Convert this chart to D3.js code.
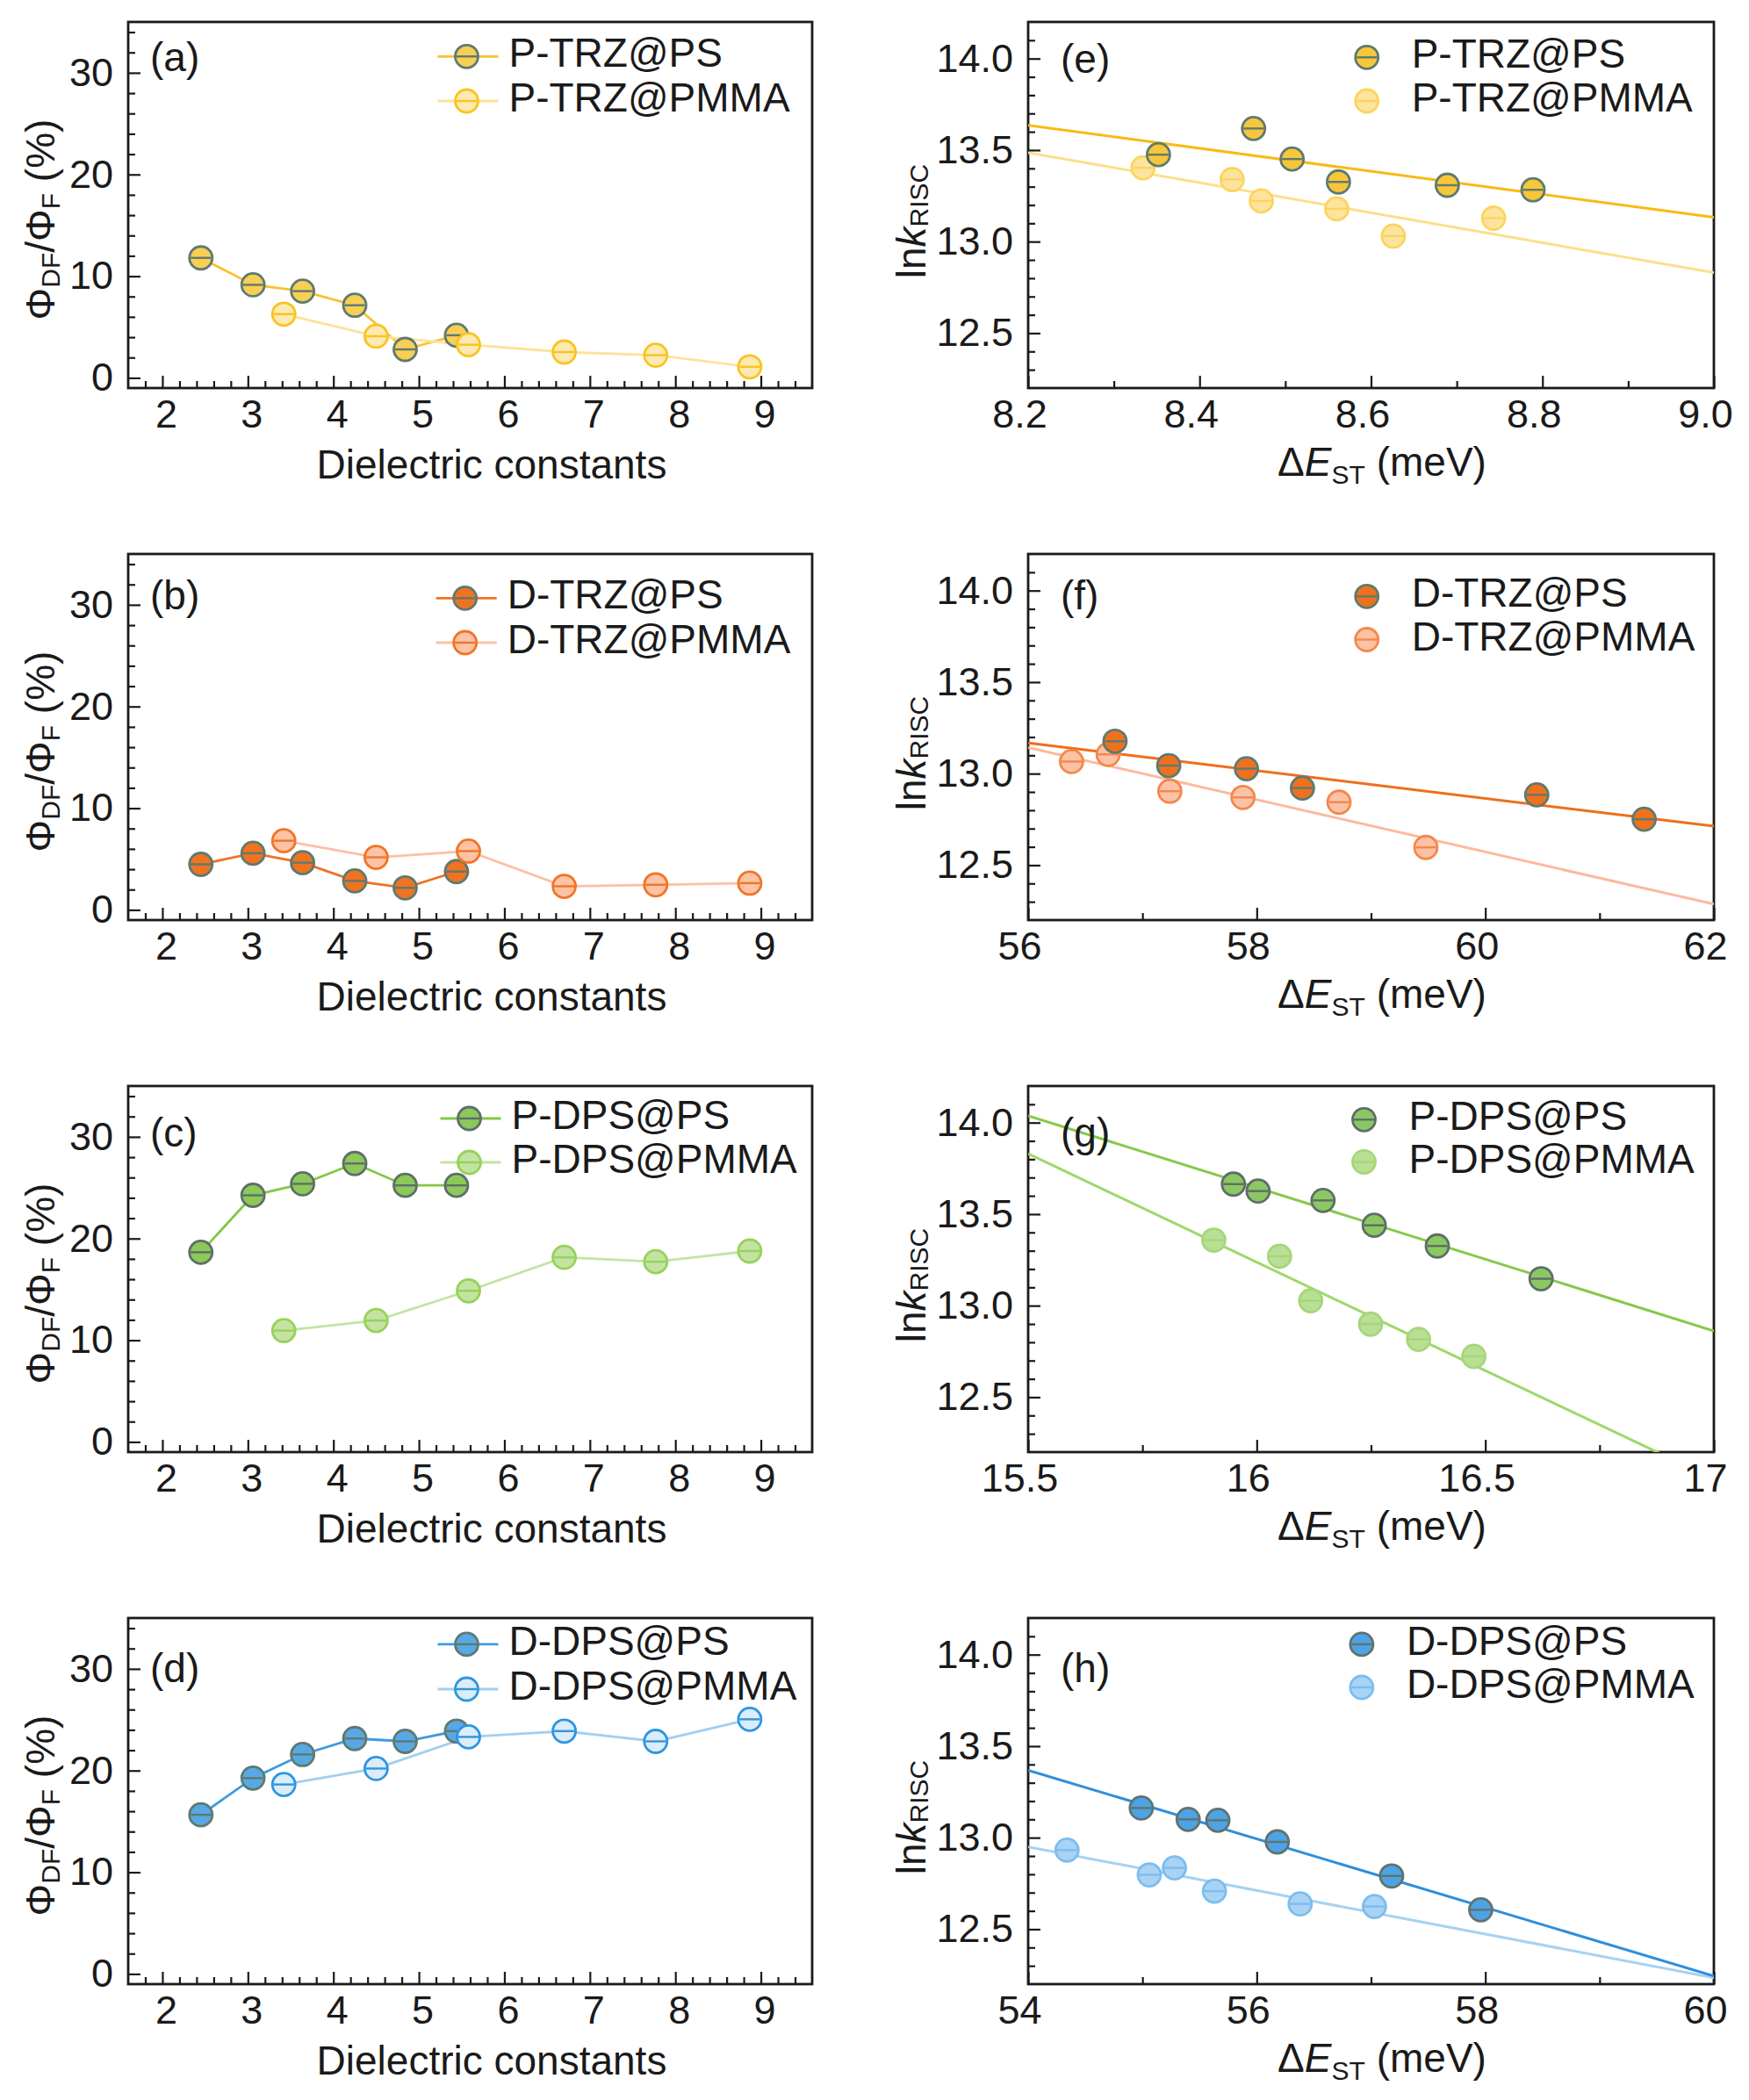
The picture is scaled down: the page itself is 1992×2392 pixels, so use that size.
<!DOCTYPE html>
<html><head><meta charset="utf-8">
<script src="https://cdn.jsdelivr.net/npm/d3@7"></script>
<style>
body{margin:0;background:#fff}
text{font-family:"Liberation Sans", Arial, Helvetica, sans-serif; fill:#1a1a1a}
</style>
</head><body><script>
// ---------------- DATA ----------------
const epsPS   = [2.45, 3.06, 3.64, 4.25, 4.84, 5.44];
const epsPMMA = [3.42, 4.50, 5.58, 6.70, 7.77, 8.87];

const ratio_PTRZ_PS   = [11.8, 9.15, 8.53, 7.14, 2.80, 4.19];
const ratio_PTRZ_PMMA = [6.27, 4.10, 3.26, 2.54, 2.23, 1.09];
const ratio_DTRZ_PS   = [4.48, 5.57, 4.64, 2.85, 2.17, 3.77];
const ratio_DTRZ_PMMA = [6.80, 5.17, 5.78, 2.32, 2.47, 2.63];
const ratio_PDPS_PS   = [18.65, 24.25, 25.38, 27.38, 25.23, 25.23];
const ratio_PDPS_PMMA = [10.95, 11.94, 14.86, 18.15, 17.72, 18.77];
const ratio_DDPS_PS   = [15.65, 19.26, 21.58, 23.15, 22.87, 23.88];
const ratio_DDPS_PMMA = [18.63, 20.20, 23.31, 23.88, 22.87, 25.04];

const dEST_PTRZ_PS   = [8.352, 8.463, 8.508, 8.562, 8.689, 8.789];
const lnk_PTRZ_PS    = [13.475, 13.618, 13.451, 13.326, 13.308, 13.283];
const dEST_PTRZ_PMMA = [8.334, 8.438, 8.472, 8.560, 8.626, 8.743];
const lnk_PTRZ_PMMA  = [13.403, 13.339, 13.222, 13.179, 13.030, 13.128];
const fitX_PTRZ = [8.2, 9.0];
const fitY_PTRZ_PS   = [13.635, 13.133];
const fitY_PTRZ_PMMA = [13.486, 12.830];

const dEST_DTRZ_PS   = [56.76, 57.23, 57.91, 58.40, 60.45, 61.39];
const lnk_DTRZ_PS    = [13.177, 13.044, 13.027, 12.921, 12.884, 12.751];
const dEST_DTRZ_PMMA = [56.38, 56.70, 57.24, 57.88, 58.72, 59.48];
const lnk_DTRZ_PMMA  = [13.066, 13.105, 12.904, 12.870, 12.844, 12.597];
const fitX_DTRZ = [56, 62];
const fitY_DTRZ_PS   = [13.168, 12.713];
const fitY_DTRZ_PMMA = [13.143, 12.287];

const dEST_PDPS_PS   = [15.949, 16.003, 16.145, 16.257, 16.395, 16.622];
const lnk_PDPS_PS    = [13.664, 13.626, 13.575, 13.439, 13.326, 13.147];
const dEST_PDPS_PMMA = [15.906, 16.050, 16.118, 16.249, 16.354, 16.475];
const lnk_PDPS_PMMA  = [13.358, 13.270, 13.027, 12.899, 12.816, 12.723];
const fitX_PDPS = [15.5, 17];
const fitY_PDPS_PS   = [14.037, 12.862];
const fitY_PDPS_PMMA = [13.830, 12.053];

const dEST_DDPS_PS   = [54.99, 55.40, 55.66, 56.18, 57.18, 57.96];
const lnk_DDPS_PS    = [13.162, 13.100, 13.095, 12.977, 12.791, 12.606];
const dEST_DDPS_PMMA = [54.34, 55.06, 55.28, 55.63, 56.38, 57.03];
const lnk_DDPS_PMMA  = [12.932, 12.797, 12.835, 12.708, 12.638, 12.624];
const fitX_DDPS = [54, 60];
const fitY_DDPS_PS   = [13.368, 12.244];
const fitY_DDPS_PMMA = [12.950, 12.235];

// tick labels
const leftXTicks = [2, 3, 4, 5, 6, 7, 8, 9];
const leftXLabels = ['2', '3', '4', '5', '6', '7', '8', '9'];
const leftYTicks = [0, 10, 20, 30];
const leftYLabels = ['0', '10', '20', '30'];
const rightYTicks = [12.5, 13.0, 13.5, 14.0];
const rightYLabels = ['12.5', '13.0', '13.5', '14.0'];
const eXTicks = [8.2, 8.4, 8.6, 8.8, 9.0];  const eXLabels = ['8.2', '8.4', '8.6', '8.8', '9.0'];
const fXTicks = [56, 58, 60, 62];           const fXLabels = ['56', '58', '60', '62'];
const gXTicks = [15.5, 16, 16.5, 17];       const gXLabels = ['15.5', '16', '16.5', '17'];
const hXTicks = [54, 56, 58, 60];           const hXLabels = ['54', '56', '58', '60'];

const seriesNames = [
  ['P-TRZ@PS', 'P-TRZ@PMMA'],
  ['D-TRZ@PS', 'D-TRZ@PMMA'],
  ['P-DPS@PS', 'P-DPS@PMMA'],
  ['D-DPS@PS', 'D-DPS@PMMA']
];
const panelLetters = ['(a)', '(b)', '(c)', '(d)', '(e)', '(f)', '(g)', '(h)'];

// ---------------- LAYOUT / STYLE ----------------
const W = 1992, H = 2392;
const rowTop = [25, 631, 1237, 1843];
const PH = 417;
const LX0 = 146, LX1 = 925, RX0 = 1171, RX1 = 1952;
const FS = 46, TFS = 45, SUBFS = 30;
const GRAY = '#5e7a70';

const svg = d3.select('body').append('svg').attr('width', W).attr('height', H).style('display', 'block');
svg.append('rect').attr('width', W).attr('height', H).attr('fill', '#fff');
const defs = svg.append('defs');

function marker(g, cx, cy, st) {
  const r = 13;
  g.append('circle').attr('cx', cx).attr('cy', cy).attr('r', r)
    .attr('fill', st.fill).attr('stroke', st.stroke).attr('stroke-width', 2.8);
  g.append('line').attr('x1', cx - r + 1.5).attr('x2', cx + r - 1.5).attr('y1', cy).attr('y2', cy)
    .attr('stroke', st.center).attr('stroke-width', 2.4);
}

function axes(g, x, y, top, cfg) {
  const bottom = top + PH;
  const styleAxis = s => {
    s.select('.domain').remove();
    s.attr('font-size', TFS).attr('font-family', '"Liberation Sans", Arial, sans-serif').attr('color', '#1a1a1a');
    s.selectAll('line').attr('stroke-width', 2.2);
  };
  g.append('g').attr('transform', `translate(0,${bottom})`)
    .call(d3.axisBottom(x).tickValues(cfg.xMinor).tickFormat('').tickSizeInner(-8).tickSizeOuter(0))
    .call(styleAxis);
  g.append('g').attr('transform', `translate(0,${bottom})`)
    .call(d3.axisBottom(x).tickValues(cfg.xTicks).tickFormat((d, i) => cfg.xLabels[i]).tickSizeInner(-14).tickSizeOuter(0).tickPadding(13.5))
    .call(styleAxis)
    .call(s => s.selectAll('text').attr('dx', cfg.xdx));
  g.append('g').attr('transform', `translate(${x.range()[0]},0)`)
    .call(d3.axisLeft(y).tickValues(cfg.yMinor).tickFormat('').tickSizeInner(-8).tickSizeOuter(0))
    .call(styleAxis);
  g.append('g').attr('transform', `translate(${x.range()[0]},0)`)
    .call(d3.axisLeft(y).tickValues(cfg.yTicks).tickFormat((d, i) => cfg.yLabels[i]).tickSizeInner(-14).tickSizeOuter(0).tickPadding(17))
    .call(styleAxis);
  g.append('rect').attr('x', x.range()[0]).attr('y', top)
    .attr('width', x.range()[1] - x.range()[0]).attr('height', PH)
    .attr('fill', 'none').attr('stroke', '#1a1a1a').attr('stroke-width', 2.8);
}

// ---------------- LEFT PANELS ----------------
const leftSeries = [
  {ps: ratio_PTRZ_PS, pmma: ratio_PTRZ_PMMA,
   psLine: '#f7c32e', pmmaLine: '#fde29a',
   psM: {fill: '#f8cf55', stroke: GRAY, center: GRAY},
   pmmaM: {fill: '#fde9b2', stroke: '#f9c41e', center: '#f9c41e'},
   leg: [[531.5, 64.3], [531.5, 115]], lab: 81},
  {ps: ratio_DTRZ_PS, pmma: ratio_DTRZ_PMMA,
   psLine: '#ef7223', pmmaLine: '#fcc0a8',
   psM: {fill: '#ef7320', stroke: GRAY, center: GRAY},
   pmmaM: {fill: '#fcc3a6', stroke: '#f27426', center: '#f27426'},
   leg: [[529.7, 681.4], [529.7, 732]], lab: 694},
  {ps: ratio_PDPS_PS, pmma: ratio_PDPS_PMMA,
   psLine: '#82c846', pmmaLine: '#c3e4a2',
   psM: {fill: '#8cc85a', stroke: '#5e6e68', center: '#5e6e68'},
   pmmaM: {fill: '#c4e3a2', stroke: '#96d25a', center: '#96d25a'},
   leg: [[534.5, 1274], [534.5, 1324]], lab: 1306},
  {ps: ratio_DDPS_PS, pmma: ratio_DDPS_PMMA,
   psLine: '#3d9be2', pmmaLine: '#a2cff0',
   psM: {fill: '#59a8e6', stroke: GRAY, center: GRAY},
   pmmaM: {fill: '#dcecf9', stroke: '#2d96e0', center: '#2d96e0'},
   leg: [[531.5, 1872.9], [531.5, 1924]], lab: 1916}
];

const leftXMinor = d3.range(1.8, 9.5, 0.2).map(v => +v.toFixed(2)).filter(v => Math.abs(v - Math.round(v)) > 1e-6);
const leftYMinor = d3.range(2, 35, 2).filter(v => v % 10 !== 0);

leftSeries.forEach((s, i) => {
  const top = rowTop[i];
  const g = svg.append('g');
  const x = d3.scaleLinear().domain([1.6, 9.6]).range([LX0, LX1]);
  const y = d3.scaleLinear().domain([-1, 35]).range([top + PH, top]);
  axes(g, x, y, top, {xTicks: leftXTicks, xLabels: leftXLabels, xMinor: leftXMinor, xdx: 4,
                      yTicks: leftYTicks, yLabels: leftYLabels, yMinor: leftYMinor});
  const line = d3.line().x(d => x(d[0])).y(d => y(d[1]));
  const psData = epsPS.map((e, k) => [e, s.ps[k]]);
  const pmmaData = epsPMMA.map((e, k) => [e, s.pmma[k]]);
  g.append('path').attr('d', line(psData)).attr('fill', 'none').attr('stroke', s.psLine).attr('stroke-width', 2.8);
  g.append('path').attr('d', line(pmmaData)).attr('fill', 'none').attr('stroke', s.pmmaLine).attr('stroke-width', 2.8);
  psData.forEach(d => marker(g, x(d[0]), y(d[1]), s.psM));
  pmmaData.forEach(d => marker(g, x(d[0]), y(d[1]), s.pmmaM));
  // legend
  [[s.psLine, s.psM], [s.pmmaLine, s.pmmaM]].forEach(([lc, m], k) => {
    const [lx, ly] = s.leg[k];
    g.append('line').attr('x1', lx - 33).attr('x2', lx + 36).attr('y1', ly).attr('y2', ly)
      .attr('stroke', lc).attr('stroke-width', 2.8);
    marker(g, lx, ly, m);
    g.append('text').attr('x', lx + 48).attr('y', ly + 12).attr('font-size', FS).text(seriesNames[i][k]);
  });
  g.append('text').attr('x', 171).attr('y', s.lab).attr('font-size', FS).text(panelLetters[i]);
  // axis titles
  g.append('text').attr('x', 560).attr('y', top + 520).attr('text-anchor', 'middle')
    .attr('font-size', FS).text('Dielectric constants');
  const yt = g.append('text').attr('transform', `translate(62,${top + 225}) rotate(-90)`)
    .attr('text-anchor', 'middle').attr('font-size', FS);
  yt.append('tspan').text('Φ');
  yt.append('tspan').attr('font-size', SUBFS).attr('dy', 6).text('DF');
  yt.append('tspan').attr('dy', -6).text('/Φ');
  yt.append('tspan').attr('font-size', SUBFS).attr('dy', 6).text('F');
  yt.append('tspan').attr('dy', -6).text(' (%)');
});

// ---------------- RIGHT PANELS ----------------
const rightSeries = [
  {xd: [8.2, 9.0], xt: eXTicks, xl: eXLabels, xMinor: [8.3, 8.5, 8.7, 8.9],
   psX: dEST_PTRZ_PS, psY: lnk_PTRZ_PS, pmmaX: dEST_PTRZ_PMMA, pmmaY: lnk_PTRZ_PMMA,
   fitX: fitX_PTRZ, fitPS: fitY_PTRZ_PS, fitPMMA: fitY_PTRZ_PMMA,
   psFit: '#f8bb14', pmmaFit: '#fddf8a',
   psM: {fill: '#f8c63a', stroke: GRAY, center: GRAY},
   pmmaM: {fill: '#fde49e', stroke: '#fcd45e', center: '#fcd45e'},
   leg: [[1556.7, 65.3], [1556.7, 115]], lab: 83},
  {xd: [56, 62], xt: fXTicks, xl: fXLabels, xMinor: [57, 59, 61],
   psX: dEST_DTRZ_PS, psY: lnk_DTRZ_PS, pmmaX: dEST_DTRZ_PMMA, pmmaY: lnk_DTRZ_PMMA,
   fitX: fitX_DTRZ, fitPS: fitY_DTRZ_PS, fitPMMA: fitY_DTRZ_PMMA,
   psFit: '#ef6e1c', pmmaFit: '#fdb99c',
   psM: {fill: '#ef711e', stroke: GRAY, center: GRAY},
   pmmaM: {fill: '#fbc2a6', stroke: '#f5874a', center: '#f5874a'},
   leg: [[1556.7, 679.3], [1556.7, 728.5]], lab: 694},
  {xd: [15.5, 17], xt: gXTicks, xl: gXLabels, xMinor: [15.75, 16.25, 16.75],
   psX: dEST_PDPS_PS, psY: lnk_PDPS_PS, pmmaX: dEST_PDPS_PMMA, pmmaY: lnk_PDPS_PMMA,
   fitX: fitX_PDPS, fitPS: fitY_PDPS_PS, fitPMMA: fitY_PDPS_PMMA,
   psFit: '#86c84a', pmmaFit: '#9dd868',
   psM: {fill: '#8cc862', stroke: '#5e6e68', center: '#5e6e68'},
   pmmaM: {fill: '#b9df94', stroke: '#a6d67c', center: '#a6d67c'},
   leg: [[1553.5, 1275.3], [1553.5, 1323.5]], lab: 1306},
  {xd: [54, 60], xt: hXTicks, xl: hXLabels, xMinor: [55, 57, 59],
   psX: dEST_DDPS_PS, psY: lnk_DDPS_PS, pmmaX: dEST_DDPS_PMMA, pmmaY: lnk_DDPS_PMMA,
   fitX: fitX_DDPS, fitPS: fitY_DDPS_PS, fitPMMA: fitY_DDPS_PMMA,
   psFit: '#2e8fdc', pmmaFit: '#a6d2f2',
   psM: {fill: '#4ea3e4', stroke: '#5f736f', center: '#5f736f'},
   pmmaM: {fill: '#a9d3f4', stroke: '#7cbdef', center: '#7cbdef'},
   leg: [[1550.9, 1872.9], [1550.9, 1922]], lab: 1916}
];

const rightYMinor = d3.range(12.3, 14.15, 0.1).map(v => +v.toFixed(2)).filter(v => Math.abs(v * 2 - Math.round(v * 2)) > 1e-6);

rightSeries.forEach((s, i) => {
  const top = rowTop[i];
  const g = svg.append('g');
  const x = d3.scaleLinear().domain(s.xd).range([RX0, RX1]);
  const y = d3.scaleLinear().domain([12.2, 14.2]).range([top + PH, top]);
  const cid = 'clip' + i;
  defs.append('clipPath').attr('id', cid).append('rect')
    .attr('x', RX0).attr('y', top).attr('width', RX1 - RX0).attr('height', PH);
  axes(g, x, y, top, {xTicks: s.xt, xLabels: s.xl, xMinor: s.xMinor, xdx: -10,
                      yTicks: rightYTicks, yLabels: rightYLabels, yMinor: rightYMinor});
  const line = d3.line().x(d => x(d[0])).y(d => y(d[1]));
  const fg = g.append('g').attr('clip-path', `url(#${cid})`);
  fg.append('path').attr('d', line(s.fitX.map((v, k) => [v, s.fitPMMA[k]])))
    .attr('fill', 'none').attr('stroke', s.pmmaFit).attr('stroke-width', 3);
  fg.append('path').attr('d', line(s.fitX.map((v, k) => [v, s.fitPS[k]])))
    .attr('fill', 'none').attr('stroke', s.psFit).attr('stroke-width', 3);
  s.pmmaX.forEach((v, k) => marker(g, x(v), y(s.pmmaY[k]), s.pmmaM));
  s.psX.forEach((v, k) => marker(g, x(v), y(s.psY[k]), s.psM));
  // legend
  [s.psM, s.pmmaM].forEach((m, k) => {
    const [lx, ly] = s.leg[k];
    marker(g, lx, ly, m);
    g.append('text').attr('x', lx + 51).attr('y', ly + 12).attr('font-size', FS).text(seriesNames[i][k]);
  });
  g.append('text').attr('x', 1208).attr('y', s.lab).attr('font-size', FS).text(panelLetters[i + 4]);
  // x title
  const xt = g.append('text').attr('x', 1574).attr('y', top + 517).attr('text-anchor', 'middle').attr('font-size', FS);
  xt.append('tspan').text('Δ');
  xt.append('tspan').attr('font-style', 'italic').text('E');
  xt.append('tspan').attr('font-size', SUBFS).attr('dy', 9).text('ST');
  xt.append('tspan').attr('dy', -9).text(' (meV)');
  // y title
  const yt = g.append('text').attr('transform', `translate(1054,${top + 227}) rotate(-90)`)
    .attr('text-anchor', 'middle').attr('font-size', FS);
  yt.append('tspan').text('ln');
  yt.append('tspan').attr('font-style', 'italic').text('k');
  yt.append('tspan').attr('font-size', SUBFS).attr('dy', 3).text('RISC');
});
</script></body></html>
